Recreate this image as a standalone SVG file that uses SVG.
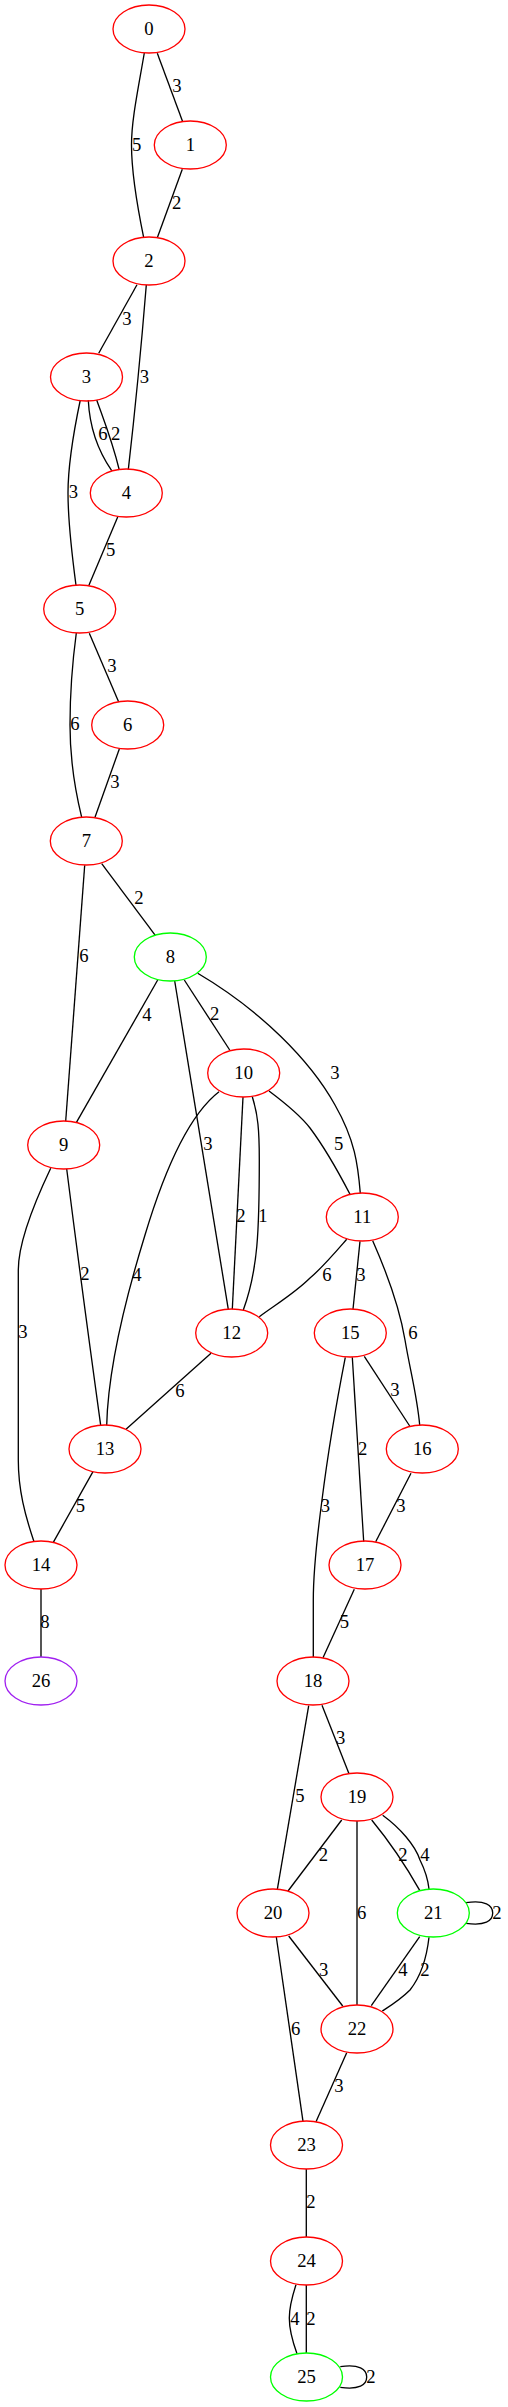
<svg xmlns="http://www.w3.org/2000/svg" width="508" height="2407" viewBox="0 0 508 2407">
<style>
.n ellipse{fill:none;stroke-width:1.33}
.r ellipse{stroke:#ff0000}
.g ellipse{stroke:#00ff00}
.p ellipse{stroke:#a020f0}
text{font-family:"Liberation Serif","Times New Roman",serif;font-size:18.67px;text-anchor:middle;fill:#000}
#edges path{fill:none;stroke:#000;stroke-width:1.33}
</style>
<rect width="508" height="2407" fill="#fff"/>
<g id="edges">
<path d="M157.3,53.3 L182.7,121.7"/><text x="177" y="92">3</text>
<path d="M144.3,53 C138,90 131.5,120 131.5,145 C131.5,172 137,205 143.7,237.7"/><text x="136.7" y="151">5</text>
<path d="M182.3,169.3 L157.3,237.7"/><text x="176.7" y="209">2</text>
<path d="M137,284.7 L98.7,353.3"/><text x="127" y="325">3</text>
<path d="M146.3,285 C141,350 134,420 128.3,469.7"/><text x="144.3" y="383">3</text>
<path d="M88.3,400.3 C89.5,425 96,448 111.7,470.7"/><text x="103" y="440">6</text>
<path d="M96.7,400 C103,418 112,440 119.3,470"/><text x="115.7" y="440">2</text>
<path d="M80.3,400 C74,430 68,465 68,493 C68,525 72,555 76,585.3"/><text x="73.3" y="498">3</text>
<path d="M117.7,517 L88.7,585.7"/><text x="110.7" y="556">5</text>
<path d="M89.3,633.3 L118.7,702"/><text x="112" y="672">3</text>
<path d="M76.3,633 C72,665 70,700 70,725 C70,755 75,790 81.7,817.3"/><text x="75" y="730">6</text>
<path d="M119.3,749 L95,817.3"/><text x="115" y="788">3</text>
<path d="M101.7,863.7 L155.3,935.3"/><text x="139" y="904">2</text>
<path d="M84.7,865.3 L65.7,1121"/><text x="84" y="962">6</text>
<path d="M157.7,980 L76.3,1122.7"/><text x="147" y="1021">4</text>
<path d="M184.3,980 L229.7,1050"/><text x="214.7" y="1020">2</text>
<path d="M197.7,973.3 C260,1010 310,1060 335,1105 C355,1140 358,1165 360.3,1193.3"/><text x="335" y="1079">3</text>
<path d="M174.7,981 L228.3,1309.3"/><text x="208" y="1150">3</text>
<path d="M269,1091 C285,1103 300,1115 310,1128 C325,1148 340,1175 350,1194.3"/><text x="338.7" y="1150">5</text>
<path d="M243,1097 L232.3,1309.3"/><text x="241" y="1222">2</text>
<path d="M252.3,1096.7 C258,1115 259.3,1130 259.3,1160 C259.3,1230 258,1270 243.3,1310"/><text x="263" y="1222">1</text>
<path d="M219,1091.7 C185,1118 160,1185 145,1235 C125,1300 108,1370 106.7,1425.3"/><text x="137" y="1281">4</text>
<path d="M66.7,1169 Q82,1290 100.7,1425.3"/><text x="85" y="1280">2</text>
<path d="M50.7,1168.3 C38,1195 18.3,1240 18.3,1270 L18.3,1460 C18.3,1490 25,1515 34,1541.7"/><text x="23" y="1338">3</text>
<path d="M346.7,1239.3 C333,1255 322,1268 310,1278 C295,1293 275,1305 259.3,1316.7"/><text x="327" y="1281">6</text>
<path d="M211,1353.3 L126,1429.3"/><text x="180" y="1397">6</text>
<path d="M93,1471.7 L53.3,1542.3"/><text x="80.3" y="1512">5</text>
<path d="M360,1241.3 L353,1309.3"/><text x="361" y="1281">3</text>
<path d="M372.7,1240.7 C390,1280 400,1310 405,1340 C410,1370 417,1395 419.7,1425"/><text x="413" y="1339">6</text>
<path d="M364.3,1356.3 L409.7,1426"/><text x="395" y="1396">3</text>
<path d="M352.3,1357.3 L363.7,1541.7"/><text x="362.7" y="1455">2</text>
<path d="M345.3,1357.3 C335,1410 327,1460 322,1500 C316,1545 313.3,1580 313.3,1600 L313.3,1657.3"/><text x="325.3" y="1512">3</text>
<path d="M411,1473.3 L375.7,1541.7"/><text x="401" y="1512">3</text>
<path d="M354.3,1589.3 L323,1657.7"/><text x="344.3" y="1628">5</text>
<path d="M41,1589 L41,1657"/><text x="45" y="1628">8</text>
<path d="M322,1705.3 L349,1773.7"/><text x="340.7" y="1744">3</text>
<path d="M308.7,1705.7 L277.3,1889.7"/><text x="300" y="1802">5</text>
<path d="M341.7,1820 L288,1891"/><text x="323.3" y="1861">2</text>
<path d="M357,1821 L357,2005"/><text x="361.7" y="1919">6</text>
<path d="M371.7,1820 Q398,1852 419.7,1890.3"/><text x="403" y="1861">2</text>
<path d="M382.7,1815.3 C400,1828 415,1845 420,1860 C425,1870 428,1880 429,1889"/><text x="425" y="1861">4</text>
<path d="M466,1902.7 C485,1900 492.7,1905 492.7,1913 C492.7,1921 485,1926 466,1923.3"/><text x="497" y="1919">2</text>
<path d="M288.7,1936 L342.7,2006"/><text x="323.7" y="1976">3</text>
<path d="M276.3,1937 L303,2121.3"/><text x="295.7" y="2035">6</text>
<path d="M419.7,1936.7 L371.3,2005.7"/><text x="403" y="1976">4</text>
<path d="M429,1937.3 C427,1955 422,1975 410,1990 C400,2000 390,2006 382.3,2011"/><text x="425" y="1976">2</text>
<path d="M346.7,2052.7 L316,2121.7"/><text x="339" y="2092">3</text>
<path d="M306.3,2169 L306.3,2237"/><text x="311" y="2208">2</text>
<path d="M296,2284.7 C291,2300 289.3,2310 289.3,2318 C289.3,2328 292,2340 297,2353.7"/><text x="295" y="2325">4</text>
<path d="M306.3,2285 L306.3,2353"/><text x="311" y="2325">2</text>
<path d="M340.3,2366.7 C359,2364 366.7,2369 366.7,2377 C366.7,2385 359,2390 340.3,2387.3"/><text x="371" y="2383">2</text>
</g>
<g id="n0" class="n r"><ellipse cx="149" cy="29" rx="36" ry="24"/><text x="149" y="34.5">0</text></g>
<g id="n1" class="n r"><ellipse cx="190.3" cy="145" rx="36" ry="24"/><text x="190.3" y="150.5">1</text></g>
<g id="n2" class="n r"><ellipse cx="149" cy="261" rx="36" ry="24"/><text x="149" y="266.5">2</text></g>
<g id="n3" class="n r"><ellipse cx="86.5" cy="377" rx="36" ry="24"/><text x="86.5" y="382.5">3</text></g>
<g id="n4" class="n r"><ellipse cx="126.3" cy="493" rx="36" ry="24"/><text x="126.3" y="498.5">4</text></g>
<g id="n5" class="n r"><ellipse cx="79.7" cy="609" rx="36" ry="24"/><text x="79.7" y="614.5">5</text></g>
<g id="n6" class="n r"><ellipse cx="127.7" cy="725" rx="36" ry="24"/><text x="127.7" y="730.5">6</text></g>
<g id="n7" class="n r"><ellipse cx="86.3" cy="841" rx="36" ry="24"/><text x="86.3" y="846.5">7</text></g>
<g id="n8" class="n g"><ellipse cx="170.3" cy="957" rx="36" ry="24"/><text x="170.3" y="962.5">8</text></g>
<g id="n9" class="n r"><ellipse cx="63.7" cy="1145" rx="36" ry="24"/><text x="63.7" y="1150.5">9</text></g>
<g id="n10" class="n r"><ellipse cx="243.7" cy="1073" rx="36" ry="24"/><text x="243.7" y="1078.5">10</text></g>
<g id="n11" class="n r"><ellipse cx="362.3" cy="1217" rx="36" ry="24"/><text x="362.3" y="1222.5">11</text></g>
<g id="n12" class="n r"><ellipse cx="231.7" cy="1333" rx="36" ry="24"/><text x="231.7" y="1338.5">12</text></g>
<g id="n13" class="n r"><ellipse cx="105" cy="1449" rx="36" ry="24"/><text x="105" y="1454.5">13</text></g>
<g id="n14" class="n r"><ellipse cx="41" cy="1565" rx="36" ry="24"/><text x="41" y="1570.5">14</text></g>
<g id="n15" class="n r"><ellipse cx="350.3" cy="1333" rx="36" ry="24"/><text x="350.3" y="1338.5">15</text></g>
<g id="n16" class="n r"><ellipse cx="422.3" cy="1449" rx="36" ry="24"/><text x="422.3" y="1454.5">16</text></g>
<g id="n17" class="n r"><ellipse cx="365" cy="1565" rx="36" ry="24"/><text x="365" y="1570.5">17</text></g>
<g id="n18" class="n r"><ellipse cx="313" cy="1681" rx="36" ry="24"/><text x="313" y="1686.5">18</text></g>
<g id="n19" class="n r"><ellipse cx="357" cy="1797" rx="36" ry="24"/><text x="357" y="1802.5">19</text></g>
<g id="n20" class="n r"><ellipse cx="273" cy="1913" rx="36" ry="24"/><text x="273" y="1918.5">20</text></g>
<g id="n21" class="n g"><ellipse cx="433.3" cy="1913" rx="36" ry="24"/><text x="433.3" y="1918.5">21</text></g>
<g id="n22" class="n r"><ellipse cx="357" cy="2029" rx="36" ry="24"/><text x="357" y="2034.5">22</text></g>
<g id="n23" class="n r"><ellipse cx="306.5" cy="2145" rx="36" ry="24"/><text x="306.5" y="2150.5">23</text></g>
<g id="n24" class="n r"><ellipse cx="306.5" cy="2261" rx="36" ry="24"/><text x="306.5" y="2266.5">24</text></g>
<g id="n25" class="n g"><ellipse cx="306.5" cy="2377" rx="36" ry="24"/><text x="306.5" y="2382.5">25</text></g>
<g id="n26" class="n p"><ellipse cx="41" cy="1681" rx="36" ry="24"/><text x="41" y="1686.5">26</text></g>
</svg>
